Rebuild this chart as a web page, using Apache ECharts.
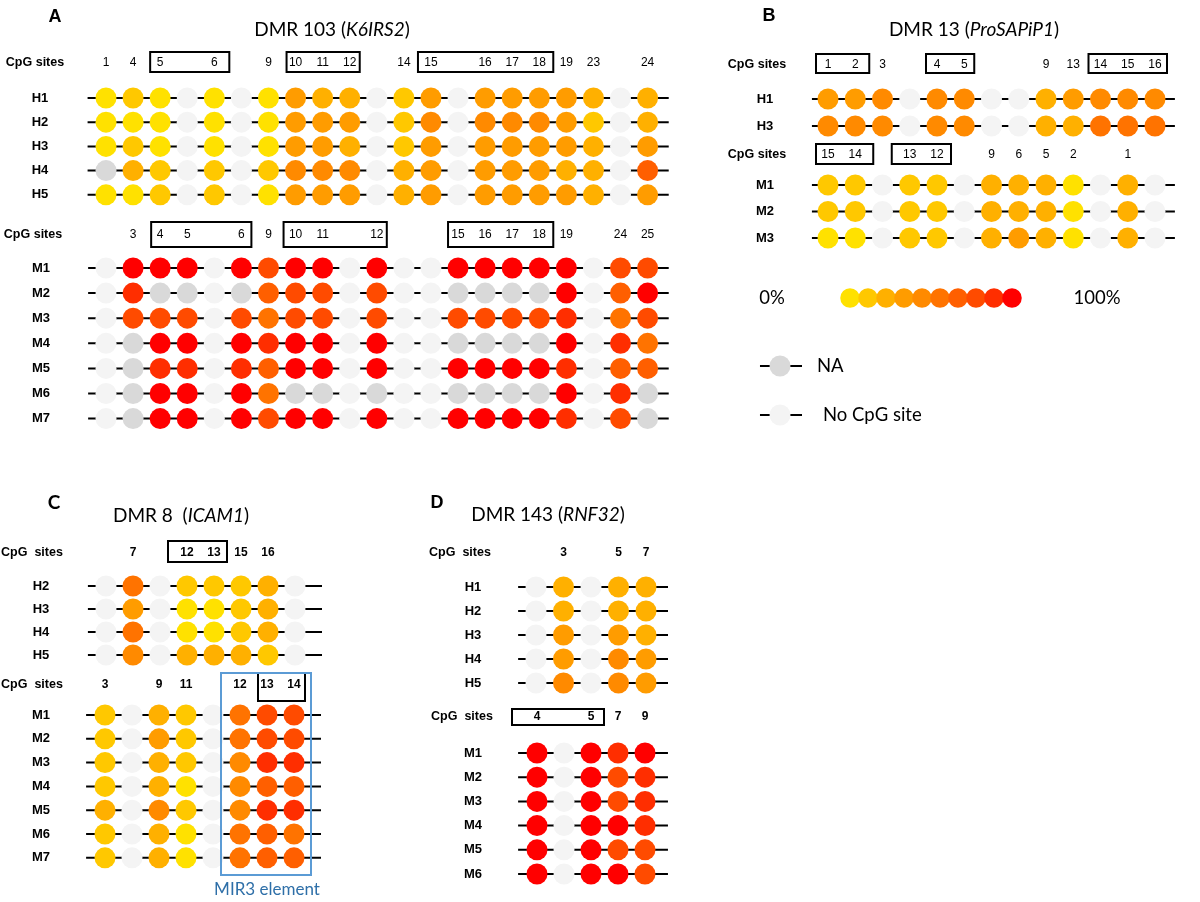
<!DOCTYPE html>
<html><head><meta charset="utf-8">
<script src="https://cdn.jsdelivr.net/npm/echarts@6/dist/echarts.min.js"></script>
<style>html,body{margin:0;padding:0;background:#fff}#c{width:1200px;height:902px}</style>
</head><body><div id="c"></div>
<script>
// ---------- colour scale (0% -> 100%) ----------
const PALETTE = ['#FFE100','#FFC800','#FFB000','#FF9C00','#FF8A00','#FF7300','#FF5F00','#FF4B00','#FF2E00','#FF0000'];
const NA_COLOR = '#D9D9D9';
const NOSITE_COLOR = '#F4F4F4';
const SCALE_LEVELS = [0,1,2,3,4,5,6,7,8,9];

// ---------- Panel A : DMR 103 (K6IRS2) ----------
const A_H_rows = ['H1','H2','H3','H4','H5'];
const A_H_sites = ['1','4','5',null,'6',null,'9','10','11','12',null,'14','15',null,'16','17','18','19','23',null,'24'];
const A_H_vals = [
  [0,1,0,null,0,null,0,3,2,2,null,1,3,null,3,3,3,3,2,null,2],
  [0,0,0,null,0,null,0,3,3,3,null,1,4,null,4,4,4,3,1,null,2],
  [0,1,0,null,0,null,0,3,3,2,null,1,3,null,3,3,3,3,2,null,3],
  ['NA',2,1,null,1,null,1,4,4,4,null,2,3,null,3,3,3,2,2,null,6],
  [0,0,1,null,1,null,0,3,3,3,null,2,3,null,3,3,3,3,2,null,3]
];
const A_H_boxes = [[2,4],[7,9],[12,16]];

const A_M_rows = ['M1','M2','M3','M4','M5','M6','M7'];
const A_M_sites = [null,'3','4','5',null,'6','9','10','11',null,'12',null,null,'15','16','17','18','19',null,'24','25'];
const A_M_vals = [
  [null,9,9,9,null,9,7,9,9,null,9,null,null,9,9,9,9,9,null,7,7],
  [null,8,'NA','NA',null,'NA',6,7,7,null,7,null,null,'NA','NA','NA','NA',9,null,6,9],
  [null,7,7,7,null,7,5,7,7,null,7,null,null,7,7,7,7,8,null,5,7],
  [null,'NA',9,9,null,9,8,9,9,null,9,null,null,'NA','NA','NA','NA',9,null,8,5],
  [null,'NA',8,8,null,8,6,9,9,null,9,null,null,9,9,9,9,8,null,6,6],
  [null,'NA',9,9,null,9,5,'NA','NA',null,'NA',null,null,'NA','NA','NA','NA',9,null,8,'NA'],
  [null,'NA',9,9,null,9,7,9,9,null,9,null,null,9,9,9,9,8,null,7,'NA']
];
const A_M_boxes = [[2,5],[7,10],[13,16]];

// ---------- Panel B : DMR 13 (ProSAPiP1) ----------
const B_H_rows = ['H1','H3'];
const B_H_sites = ['1','2','3',null,'4','5',null,null,'9','13','14','15','16'];
const B_H_vals = [
  [3,3,4,null,4,4,null,null,2,3,4,4,4],
  [4,4,4,null,4,4,null,null,2,2,5,5,5]
];
const B_H_boxes = [[0,1],[4,5],[10,12]];

const B_M_rows = ['M1','M2','M3'];
const B_M_sites = ['15','14',null,'13','12',null,'9','6','5','2',null,'1',null];
const B_M_vals = [
  [1,1,null,1,1,null,2,2,2,0,null,2,null],
  [1,1,null,1,1,null,2,2,2,0,null,2,null],
  [0,0,null,1,1,null,2,3,2,0,null,2,null]
];
const B_M_boxes = [[0,1],[3,4]];

// ---------- Panel C : DMR 8 (ICAM1) ----------
const C_H_rows = ['H2','H3','H4','H5'];
const C_H_sites = [null,'7',null,'12','13','15','16',null];
const C_H_vals = [
  [null,5,null,1,1,1,2,null],
  [null,3,null,0,0,1,2,null],
  [null,5,null,0,0,1,2,null],
  [null,4,null,2,2,2,1,null]
];
const C_H_boxes = [[3,4]];

const C_M_rows = ['M1','M2','M3','M4','M5','M6','M7'];
const C_M_sites = ['3',null,'9','11',null,'12','13','14'];
const C_M_vals = [
  [1,null,2,1,null,5,7,7],
  [1,null,3,1,null,5,7,7],
  [1,null,2,1,null,4,8,8],
  [1,null,2,0,null,4,6,6],
  [2,null,4,1,null,4,8,8],
  [1,null,2,0,null,5,6,5],
  [1,null,2,0,null,5,6,6]
];
const C_M_boxes = [[6,7]];
const C_M_mir3 = [5,7];

// ---------- Panel D : DMR 143 (RNF32) ----------
const D_H_rows = ['H1','H2','H3','H4','H5'];
const D_H_sites = [null,'3',null,'5','7'];
const D_H_vals = [
  [null,2,null,2,2],
  [null,2,null,2,2],
  [null,3,null,3,2],
  [null,3,null,4,3],
  [null,4,null,4,3]
];
const D_H_boxes = [];

const D_M_rows = ['M1','M2','M3','M4','M5','M6'];
const D_M_sites = ['4',null,'5','7','9'];
const D_M_vals = [
  [9,null,9,8,9],
  [9,null,9,7,8],
  [9,null,9,7,8],
  [9,null,9,9,8],
  [9,null,9,7,7],
  [9,null,9,9,7]
];
const D_M_boxes = [[0,2]];

// ---------- legend ----------
const LEG_rows = ['NA','No CpG site'];
const LEG_vals = [['NA'],[null]];

// ---------- layout (pixels / styles) ----------
const SECTIONS = [
  {rows:A_H_rows, sites:A_H_sites, vals:A_H_vals, boxes:A_H_boxes,
   L:{x0:106,dx:27.08,y0:98,dy:24.2,hy:63,lf:-0.68,lt:20.78,rlx:40,cpgx:35,cpg:'CpG sites',bold:false,bt:11,bb:9,pads:[[10,15],[9,10],[13,14]]}},
  {rows:A_M_rows, sites:A_M_sites, vals:A_M_vals, boxes:A_M_boxes,
   L:{x0:106,dx:27.08,y0:268,dy:25.1,hy:235,lf:-0.66,lt:20.78,rlx:41,cpgx:33,cpg:'CpG sites',bold:false,bt:13,bb:12,pads:[[9,10],[12,10],[10,14]]}},
  {rows:B_H_rows, sites:B_H_sites, vals:B_H_vals, boxes:B_H_boxes,
   L:{x0:828,dx:27.25,y0:99,dy:27,hy:65,lf:-0.59,lt:12.73,rlx:765,cpgx:757,cpg:'CpG sites',bold:false,bt:11,bb:8,pads:[[12,14],[11,10],[12,12]]}},
  {rows:B_M_rows, sites:B_M_sites, vals:B_M_vals, boxes:B_M_boxes,
   L:{x0:828,dx:27.25,y0:185,dy:26.5,hy:155,lf:-0.59,lt:12.73,rlx:765,cpgx:757,cpg:'CpG sites',bold:false,bt:11,bb:9,pads:[[12,18],[18,14]]}},
  {rows:C_H_rows, sites:C_H_sites, vals:C_H_vals, boxes:C_H_boxes,
   L:{x0:106,dx:27,y0:586,dy:23,hy:553,lf:-0.67,lt:8.0,rlx:41,cpgx:32,cpg:'CpG  sites',bold:true,bt:12,bb:9,pads:[[19,13]]}},
  {rows:C_M_rows, sites:C_M_sites, vals:C_M_vals, boxes:C_M_boxes, mir:C_M_mir3,
   L:{x0:105,dx:27,y0:715,dy:23.8,hy:685,lf:-0.7,lt:8.0,rlx:41,cpgx:32,cpg:'CpG  sites',bold:true,bt:12,bb:16,pads:[[9,11]],
      mirPad:[19,17],mirTop:673,mirBottom:875}},
  {rows:D_H_rows, sites:D_H_sites, vals:D_H_vals, boxes:D_H_boxes,
   L:{x0:536,dx:27.5,y0:587,dy:24,hy:553,lf:-0.65,lt:4.8,rlx:473,cpgx:460,cpg:'CpG  sites',bold:true,bt:8,bb:8,pads:[]}},
  {rows:D_M_rows, sites:D_M_sites, vals:D_M_vals, boxes:D_M_boxes,
   L:{x0:537,dx:27,y0:753,dy:24.2,hy:717,lf:-0.7,lt:4.85,rlx:473,cpgx:462,cpg:'CpG  sites',bold:true,bt:8,bb:8,pads:[[25,13]]}},
  // legend: colour scale
  {rows:['scale'], sites:null, vals:[SCALE_LEVELS], boxes:[], noLines:true, noLabels:true, size:19.5,
   L:{x0:850,dx:18,y0:298,dy:24}},
  // legend: NA / no CpG
  {rows:LEG_rows, sites:null, vals:LEG_vals, boxes:[], noLabels:true,
   L:{x0:780,dx:22,y0:366,dy:49,lf:-0.91,lt:1.0}}
];

const FONT = '"Liberation Sans", Arial, sans-serif';
const grids = [], xAxes = [], yAxes = [], series = [];

function colorOf(v){ return v === null ? NOSITE_COLOR : (v === 'NA' ? NA_COLOR : PALETTE[v]); }

SECTIONS.forEach((s, g) => {
  const L = s.L;
  const n = s.vals[0].length;
  const left = L.x0 - L.dx;
  const top = L.y0 - L.dy / 2;
  grids.push({left: left, top: top, width: (n + 2) * L.dx, height: s.rows.length * L.dy,
              containLabel: false, outerBoundsMode: 'none', show: false});
  xAxes.push({gridIndex: g, type: 'value', min: -1, max: n + 1, interval: 1, position: 'top',
    axisLine: {show: false}, axisTick: {show: false}, splitLine: {show: false},
    axisLabel: {show: !!s.sites, margin: s.sites ? top - L.hy : 8, verticalAlign: 'middle',
      formatter: v => (s.sites && s.sites[v]) || '', hideOverlap: false,
      fontSize: 12, fontWeight: L.bold ? 'bold' : 'normal', fontFamily: FONT, color: '#000'}});
  yAxes.push({gridIndex: g, type: 'category', data: s.rows, inverse: true,
    axisLine: {show: false}, axisTick: {show: false}, splitLine: {show: false},
    axisLabel: {show: !s.noLabels, interval: 0, align: 'center', margin: s.noLabels ? 8 : left - L.rlx,
      fontSize: 13, fontWeight: 'bold', fontFamily: FONT, color: '#000'}});

  if (!s.noLines) {
    series.push({type: 'custom', xAxisIndex: g, yAxisIndex: g, z: 1, silent: true, clip: false,
      data: s.rows.map((_, r) => [L.lf, r, L.lt]), encode: {x: [0, 2], y: 1},
      renderItem: (p, api) => {
        const a = api.coord([api.value(0), api.value(1)]);
        const b = api.coord([api.value(2), api.value(1)]);
        return {type: 'line', shape: {x1: a[0], y1: a[1], x2: b[0], y2: b[1]},
                style: {stroke: '#000', lineWidth: 2}};
      }});
  }

  const pts = [];
  s.vals.forEach((row, r) => row.forEach((v, c) => {
    pts.push({value: [c, r], itemStyle: {color: colorOf(v), opacity: 1}});
  }));
  series.push({type: 'scatter', xAxisIndex: g, yAxisIndex: g, z: 3, silent: true,
    symbol: 'circle', symbolSize: s.size || 21, data: pts});

  if (s.boxes.length) {
    series.push({type: 'custom', xAxisIndex: g, yAxisIndex: g, z: 4, silent: true, clip: false,
      data: s.boxes.map((b, k) => [b[0], b[1], k, 0]), encode: {x: [0, 1], y: 3},
      renderItem: (p, api) => {
        const k = api.value(2), pad = L.pads[k];
        const a = api.coord([api.value(0), 0]);
        const b = api.coord([api.value(1), 0]);
        const x1 = a[0] - pad[0], x2 = b[0] + pad[1];
        return {type: 'rect', shape: {x: x1, y: L.hy - L.bt, width: x2 - x1, height: L.bt + L.bb},
                style: {fill: 'none', stroke: '#000', lineWidth: 2}};
      }});
  }
  if (s.mir) {
    series.push({type: 'custom', xAxisIndex: g, yAxisIndex: g, z: 4, silent: true, clip: false,
      data: [[s.mir[0], s.mir[1], 0]], encode: {x: [0, 1], y: 2},
      renderItem: (p, api) => {
        const a = api.coord([api.value(0), 0]);
        const b = api.coord([api.value(1), 0]);
        const x1 = a[0] - L.mirPad[0], x2 = b[0] + L.mirPad[1];
        return {type: 'rect', shape: {x: x1, y: L.mirTop, width: x2 - x1, height: L.mirBottom - L.mirTop},
                style: {fill: 'none', stroke: '#5B9BD5', lineWidth: 2}};
      }});
  }
});

// ---------- text elements ----------
const graphics = [];
function txt(text, x, y, opt) {
  graphics.push({type: 'text', silent: true, z: 10, style: Object.assign({
    text: text, x: x, y: y, fill: '#000', align: 'center', verticalAlign: 'middle',
    fontFamily: FONT, fontSize: 12}, opt || {})});
}
// panel letters
txt('A', 55, 17, {fontSize: 18, fontWeight: 'bold'});
txt('B', 769, 16, {fontSize: 18, fontWeight: 'bold'});
txt('C', 54, 503, {fontSize: 19, fontWeight: 'bold', fontFamily: 'Lato'});
txt('D', 437, 503, {fontSize: 18, fontWeight: 'bold'});
// titles
const TF = {fontSize: 19, fontFamily: 'Lato'};
const RICH = {i: {fontSize: 19, fontFamily: 'Lato', fontStyle: 'italic', fill: '#000'},
              n: {fontSize: 19, fontFamily: 'Lato', fill: '#000'}};
txt('{n|DMR 103 (}{i|K6IRS2}{n|)}', 332, 30, Object.assign({rich: RICH}, TF));
txt('{n|DMR 13 (}{i|ProSAPiP1}{n|)}', 974, 30, Object.assign({rich: RICH}, TF));
txt('{n|DMR 8  (}{i|ICAM1}{n|)}', 181, 516, Object.assign({rich: RICH}, TF));
txt('{n|DMR 143 (}{i|RNF32}{n|)}', 548, 515, Object.assign({rich: RICH}, TF));
// "CpG sites" headers
SECTIONS.forEach(s => { if (s.L.cpg) txt(s.L.cpg, s.L.cpgx, s.L.hy, {fontSize: 12.5, fontWeight: 'bold'}); });
// legend texts
const LF = {fontSize: 18.5, fontFamily: 'Lato'};
txt('0%', 772, 298, LF);
txt('100%', 1097, 298, LF);
txt('NA', 817, 366, Object.assign({align: 'left'}, LF));
txt('No CpG site', 823, 415, Object.assign({align: 'left'}, LF));
txt('MIR3 element', 267, 890, {fontSize: 17, fontFamily: 'Lato', fill: '#2E6FA8'});

const chart = echarts.init(document.getElementById('c'), null, {renderer: 'canvas'});
chart.setOption({
  animation: false,
  backgroundColor: '#fff',
  grid: grids, xAxis: xAxes, yAxis: yAxes, series: series,
  graphic: {elements: graphics}
});
</script></body></html>
